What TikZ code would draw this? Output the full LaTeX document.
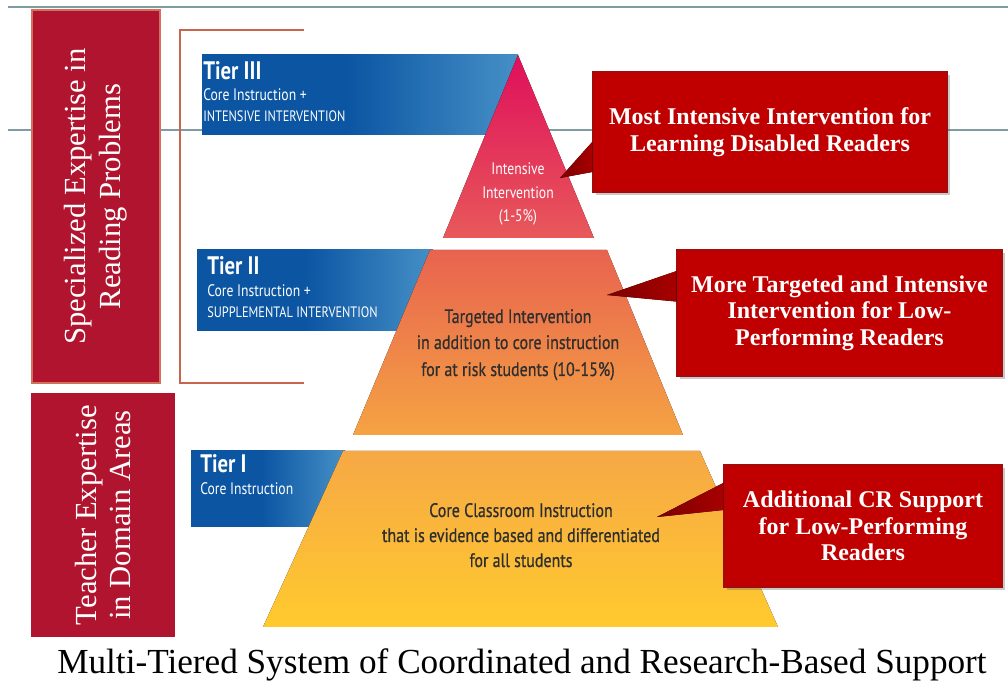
\documentclass[tikz,border=0pt]{standalone}
\usepackage{fontspec}
\setmainfont{Liberation Serif}
\newfontfamily\cond[FakeStretch=0.82]{PT Sans}
\newfontfamily\condm[FakeStretch=0.82,FakeBold=0.6]{PT Sans}
\usetikzlibrary{shadows,calc}
\definecolor{lineg}{HTML}{7F9CA3}
\definecolor{lbox}{HTML}{B0142F}
\definecolor{lboxb}{HTML}{D2705E}
\definecolor{brk}{HTML}{C8654F}
\definecolor{tb1}{HTML}{0B55A3}
\definecolor{tb2}{HTML}{4690C7}
\definecolor{cred}{HTML}{C00000}
\definecolor{credb}{HTML}{A50A0A}
\definecolor{ptrA}{HTML}{7A0000}
\definecolor{ptrB}{HTML}{A80000}
\definecolor{p1t}{HTML}{DF0F5B}
\definecolor{p1b}{HTML}{E8595A}
\definecolor{p2t}{HTML}{E8634F}
\definecolor{p2b}{HTML}{F5A343}
\definecolor{p3t}{HTML}{F6A845}
\definecolor{p3b}{HTML}{FFCA2E}
\definecolor{dtext}{HTML}{2E2E2E}
\pgfdeclarehorizontalshading{tierblue}{100bp}{color(0bp)=(tb1); color(48bp)=(tb1); color(75bp)=(tb2); color(100bp)=(tb2)}
\begin{document}
\begin{tikzpicture}[x=0.75pt,y=-0.75pt,
  grayline/.style={lineg, line width=1.2pt},
  lboxst/.style={fill=lbox, inner sep=0pt},
  lbl/.style={text=white, align=center, font=\fontsize{23}{26}\selectfont, rotate=90, inner sep=0pt},
  bracketline/.style={brk, line width=1.5pt},
  tierbox/.style={shading=tierblue, inner sep=0pt},
  tiert/.style={anchor=base west, text=white, inner sep=0pt, font=\cond\bfseries\fontsize{19}{19}\selectfont},
  tiers/.style={anchor=base west, text=white, inner sep=0pt, font=\cond\fontsize{12.5}{12.5}\selectfont},
  tiercaps/.style={anchor=base west, text=white, inner sep=0pt, font=\cond\fontsize{11.3}{11.3}\selectfont},
  ptext/.style={anchor=base, inner sep=0pt, text=dtext, font=\condm\fontsize{14.6}{14.6}\selectfont},
  wtext/.style={anchor=base, inner sep=0pt, text=white, font=\cond\fontsize{12.5}{12.5}\selectfont},
  callout/.style={fill=cred, draw=credb, line width=0.8pt, drop shadow={shadow xshift=2pt, shadow yshift=-2.5pt, opacity=0.35, fill=black!60}, text=white, align=center, font=\bfseries\fontsize{18}{20}\selectfont, inner sep=0pt},
  pointer/.style={left color=ptrA, right color=ptrB}
]
\useasboundingbox (0,0) rectangle (1008,691);
\fill[white] (0,0) rectangle (1008,691);

% gray rules
\coordinate (g1a) at (8,7);   \coordinate (g1b) at (1008,7);
\coordinate (g2a) at (8,130); \coordinate (g2b) at (1008,130);
\draw[grayline] (g1a) -- (g1b);
\draw[grayline] (g2a) -- (g2b);

% left boxes
\node[lboxst, draw=lboxb, line width=1.2pt, minimum width=128*0.75pt, minimum height=373*0.75pt] (L1) at (96,196.5) {};
\node[lbl] (L1t) at (L1.center) {Specialized Expertise in\\Reading Problems};
\node[lboxst, minimum width=144*0.75pt, minimum height=244*0.75pt] (L2) at (103,515) {};
\node[lbl] (L2t) at (L2.center) {Teacher Expertise\\in Domain Areas};

% bracket
\coordinate (b1) at (304,30); \coordinate (b2) at (180,30);
\coordinate (b3) at (180,383); \coordinate (b4) at (304,383);
\draw[bracketline] (b1) -- (b2) -- (b3) -- (b4);

% tier boxes
\path[tierbox] (202,55) rectangle (518,135);
\path[tierbox] (197,250) rectangle (433,331);
\path[tierbox] (191,451) rectangle (345,527);

% pyramid
\fill[top color=p1t, bottom color=p1b] (518,55) -- (594,238) -- (443,238) -- cycle;
\fill[top color=p2t, bottom color=p2b] (430,250) -- (607,250) -- (683,435) -- (353,435) -- cycle;
\fill[top color=p3t, bottom color=p3b] (343,451) -- (700,451) -- (778,627) -- (263,627) -- cycle;

% tier texts
\node[tiert] (t3a) at (203,80) {Tier III};
\node[tiers] (t3b) at (203,101) {Core Instruction +};
\node[tiercaps] (t3c) at (203,122) {INTENSIVE INTERVENTION};
\node[tiert] (t2a) at (207,275) {Tier II};
\node[tiers] (t2b) at (207,297) {Core Instruction +};
\node[tiercaps] (t2c) at (207,318) {SUPPLEMENTAL INTERVENTION};
\node[tiert] (t1a) at (200,473) {Tier I};
\node[tiers] (t1b) at (200,495) {Core Instruction};

% pyramid texts
\node[wtext] (i1) at (518,175) {Intensive};
\node[wtext] (i2) at (518,199) {Intervention};
\node[wtext] (i3) at (518,222) {(1-5\%)};
\node[ptext] (m1) at (518,323) {Targeted Intervention};
\node[ptext] (m2) at (518,349) {in addition to core instruction};
\node[ptext] (m3) at (518,376) {for at risk students (10-15\%)};
\node[ptext] (c1l) at (521,517) {Core Classroom Instruction};
\node[ptext] (c2l) at (521,542) {that is evidence based and differentiated};
\node[ptext] (c3l) at (521,567) {for all students};

% callouts
\node[callout, minimum width=354*0.75pt, minimum height=120*0.75pt] (C1) at (770,132) {Most Intensive Intervention for\\Learning Disabled Readers};
\node[callout, minimum width=325*0.75pt, minimum height=126*0.75pt] (C2) at (839.5,313) {More Targeted and Intensive\\Intervention for Low-\\Performing Readers};
\node[callout, minimum width=278*0.75pt, minimum height=122*0.75pt] (C3) at (863,526) {Additional CR Support\\for Low-Performing\\Readers};

\coordinate (tip1) at (560,178);
\coordinate (tip2) at (607,295);
\coordinate (tip3) at (657,517);
\fill[pointer] ($(C1.north west)!0.58!(C1.south west)$) -- (tip1) -- ($(C1.north west)!0.83!(C1.south west)$) -- cycle;
\fill[pointer] ($(C2.north west)!0.17!(C2.south west)$) -- (tip2) -- ($(C2.north west)!0.41!(C2.south west)$) -- cycle;
\fill[pointer] ($(C3.north west)!0.15!(C3.south west)$) -- (tip3) -- ($(C3.north west)!0.37!(C3.south west)$) -- cycle;

% caption
\node[inner sep=0pt, font=\fontsize{26.4}{26.4}\selectfont] (cap) at (522,665) {Multi-Tiered System of Coordinated and Research-Based Support};
\end{tikzpicture}
\end{document}
